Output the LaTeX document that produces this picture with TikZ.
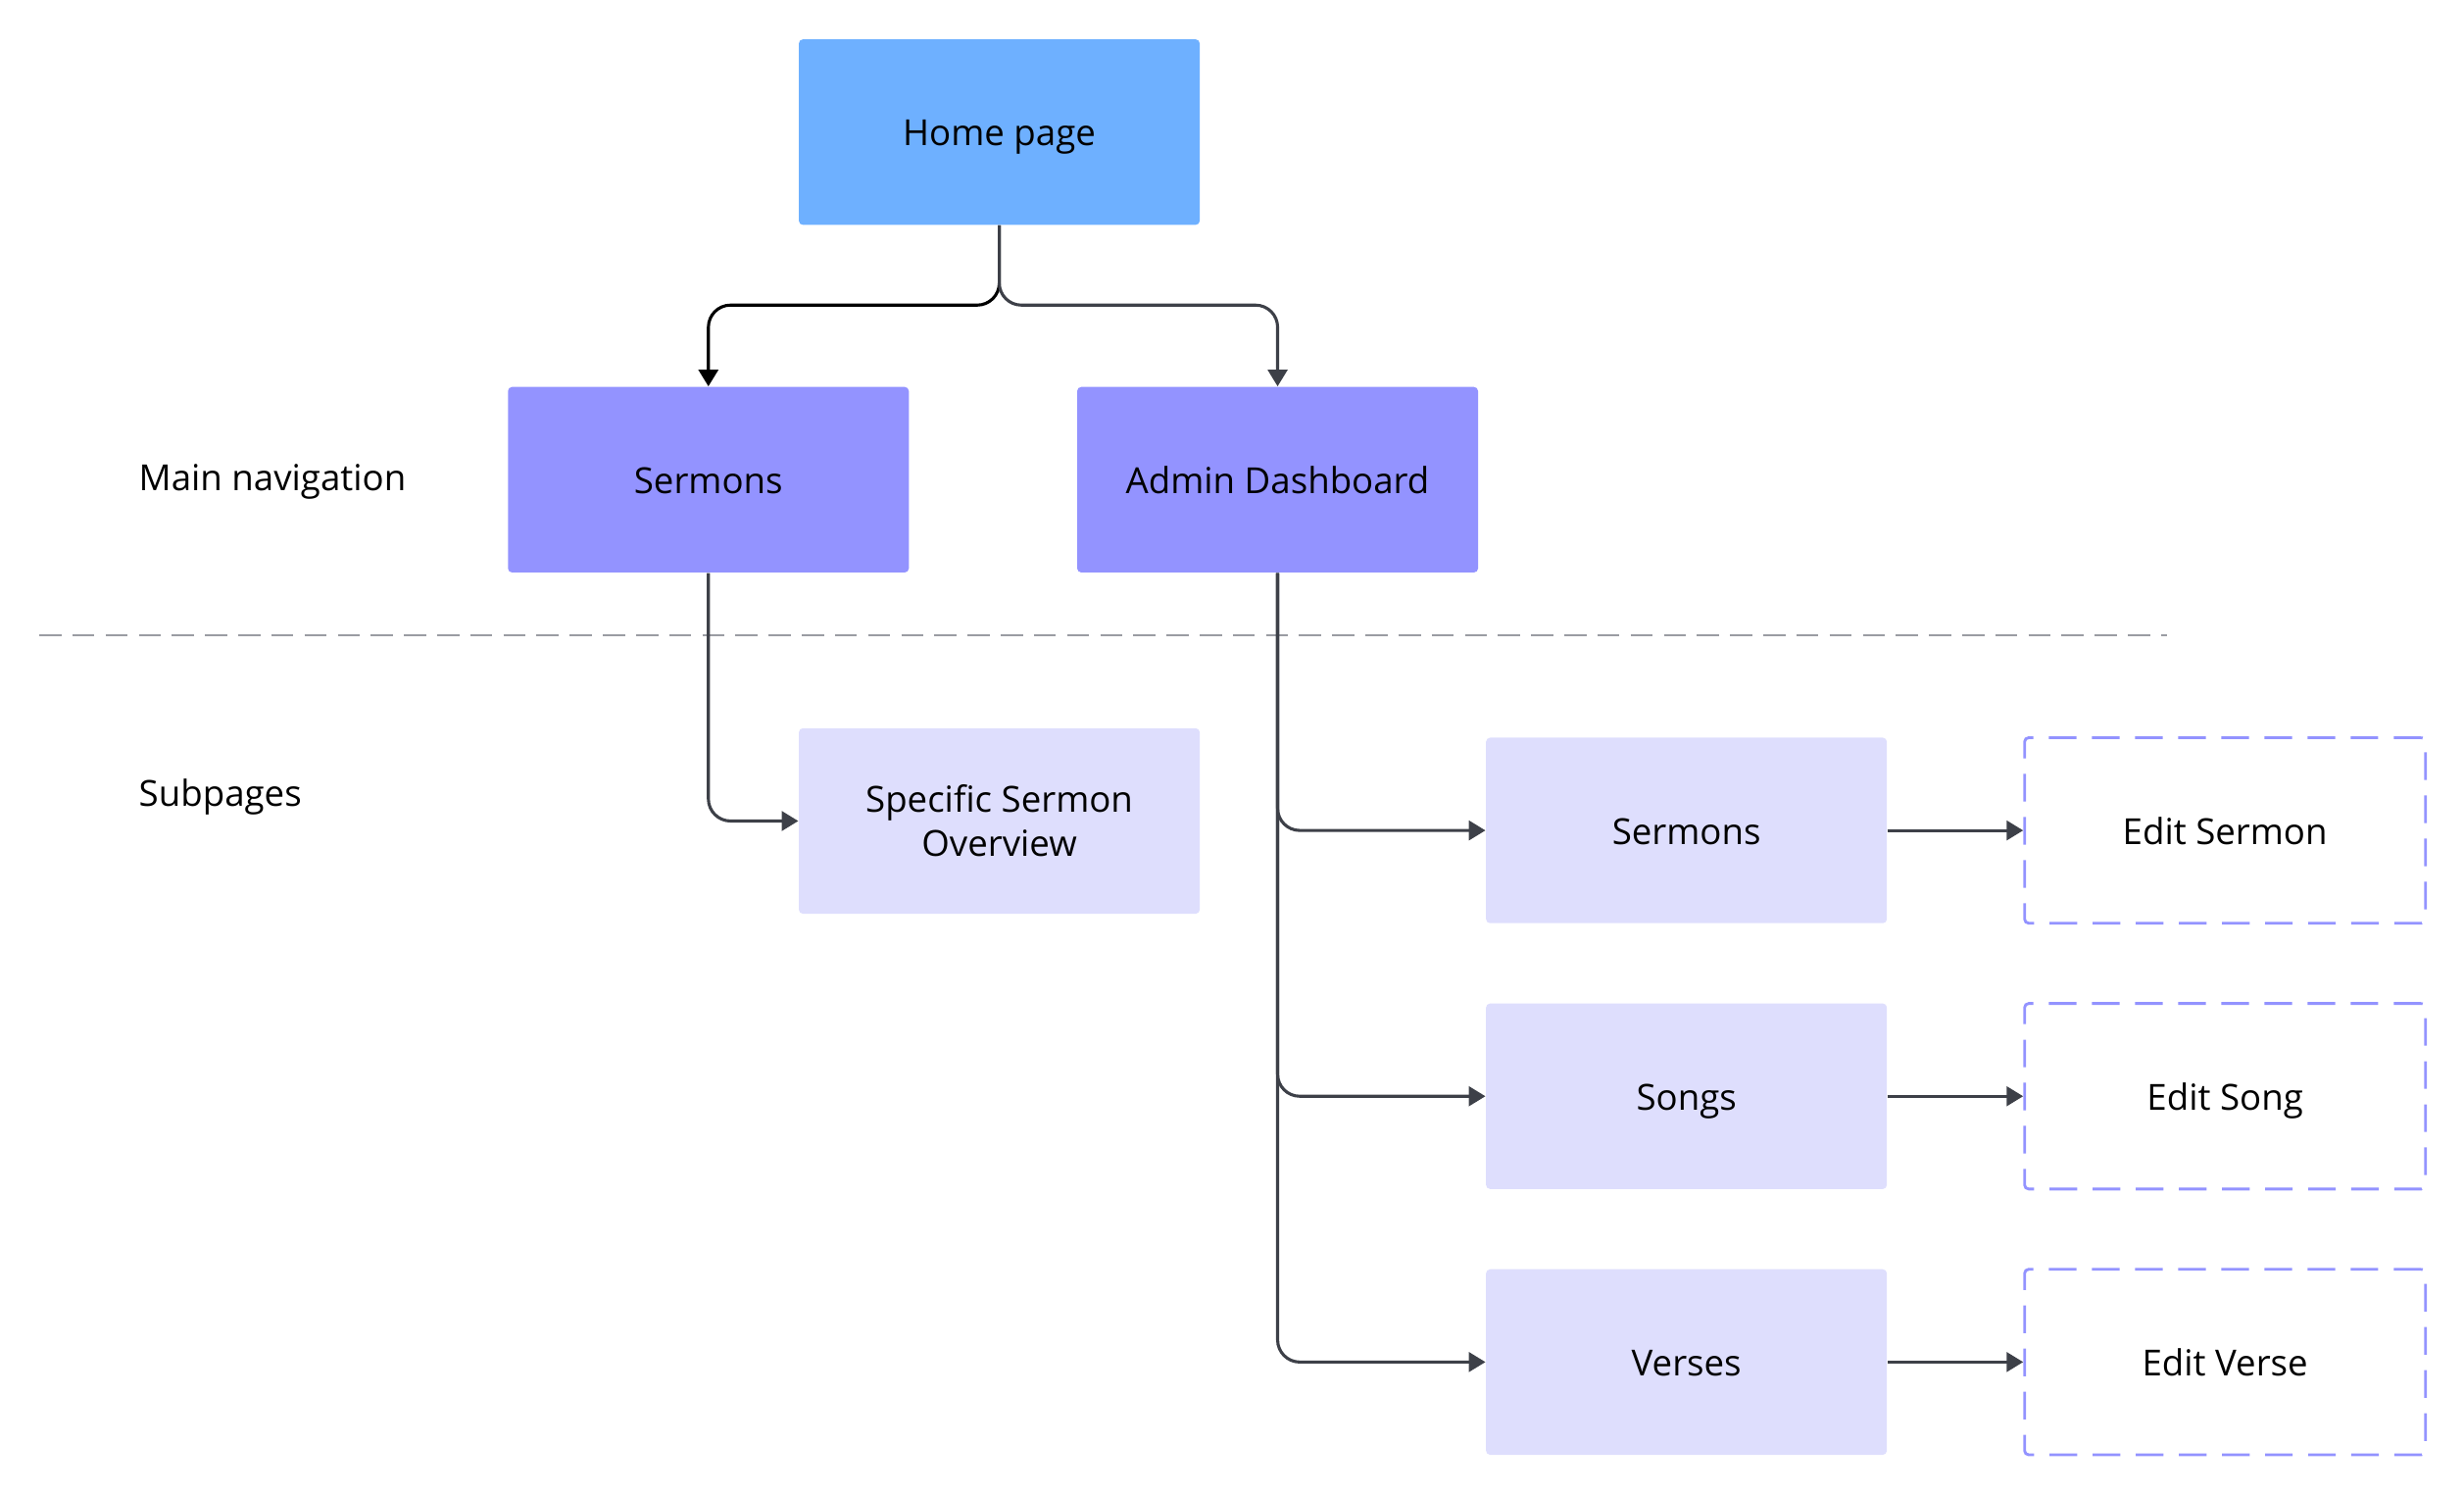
\documentclass[tikz,border=0pt]{standalone}
\usepackage{fontspec}
\setmainfont{Open Sans}
\usetikzlibrary{arrows.meta}
\definecolor{homeblue}{HTML}{6EB0FF}
\definecolor{mainpurple}{HTML}{9393FF}
\definecolor{subpurple}{HTML}{DEDEFD}
\definecolor{linkgray}{HTML}{3D4048}
\definecolor{sepgray}{HTML}{9A9CA3}
\begin{document}
\begin{tikzpicture}[x=0.02cm, y=-0.02cm,
        page/.style={rectangle, rounded corners=1.5pt, minimum width=5.1cm, minimum height=2.36cm, align=center, text=black, font=\fontsize{13}{16}\selectfont},
        flatpage/.style={page, text height=12pt, text depth=2pt},
        homepage/.style={flatpage, fill=homeblue},
        mainpage/.style={flatpage, fill=mainpurple},
        subpage/.style={flatpage, fill=subpurple},
        editpage/.style={flatpage, fill=white, draw=mainpurple, line width=1pt, dash pattern=on 10pt off 5.6pt},
        link/.style={draw=linkgray, line width=1.1pt, rounded corners=8pt, -{Triangle[length=6pt, width=7pt]}},
        section/.style={anchor=west, inner sep=0pt, text height=12pt, text depth=2pt, text=black, font=\fontsize{13}{16}\selectfont}]
        \useasboundingbox (0,0) rectangle (1567,950);

        \node [homepage] (home) at (635.5,84) {Home page};
        \node [mainpage] (sermons) at (450.5,305) {Sermons};
        \node [mainpage] (admin) at (812.5,305) {Admin Dashboard};

        \node [section] (mainnav) at (88,303) {Main navigation};
        \node [section] (subpages) at (88,504) {Subpages};

        \draw [sepgray, line width=0.8pt, dash pattern=on 8pt off 4pt] (25,404) -- (1378,404);

        \node [page, fill=subpurple] (overview) at (635.5,522) {Specific Sermon\\Overview};
        \node [subpage] (subsermons) at (1072.5,528) {Sermons};
        \node [subpage] (songs) at (1072.5,697) {Songs};
        \node [subpage] (verses) at (1072.5,866) {Verses};

        \node [editpage] (editsermon) at (1415,528) {Edit Sermon};
        \node [editpage] (editsong) at (1415,697) {Edit Song};
        \node [editpage] (editverse) at (1415,866) {Edit Verse};

        % home page splits to the main navigation
        \coordinate (split) at (635.5,194);
        \draw [link, draw=black] (home.south) -- (split) -| (sermons.north);
        \draw [link] (home.south) -- (split) -| (admin.north);

        \draw [link] (sermons.south) |- (overview.west);
        \draw [link] (admin.south) |- (subsermons.west);
        \draw [link] (admin.south) |- (songs.west);
        \draw [link] (admin.south) |- (verses.west);

        \draw [link] (subsermons) -- (editsermon);
        \draw [link] (songs) -- (editsong);
        \draw [link] (verses) -- (editverse);
    \end{tikzpicture}
\end{document}
